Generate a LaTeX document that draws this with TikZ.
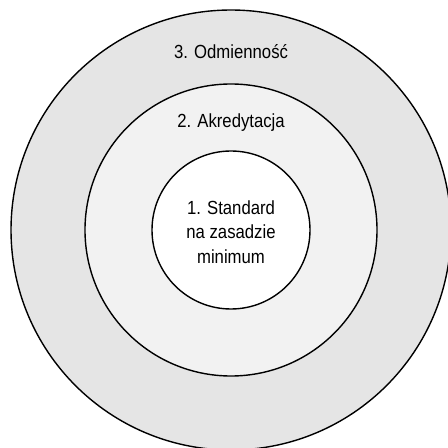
\documentclass[tikz,border=0pt]{standalone}
\usepackage{fontspec}
\setmainfont{Liberation Sans}[FakeStretch=0.88]
\begin{document}
\begin{tikzpicture}  % ------ Trzy poziomy: standard, akredytacja, odmiennosc --------------
      [x=1pt,y=1pt, line width=1.4pt, font=\fontsize{19}{24.5}\selectfont]

    \useasboundingbox (0,0) rectangle (448,448);
    \clip (0,0) rectangle (448,448);

    \coordinate (O) at (231,218);

    \draw [fill=black!10] (O) circle (220) ;
    \draw [fill=black!5]  (O) circle (146) ;
    \draw [fill=white]    (O) circle (79) ;

    \node (L3) at (231,396) {3. Odmienność} ;
    \node (L2) at (231,325) {2. Akredytacja} ;
    \node (L1) [align=center] at (231,216) {1. Standard\\na zasadzie\\minimum} ;
\end{tikzpicture}
\end{document}
